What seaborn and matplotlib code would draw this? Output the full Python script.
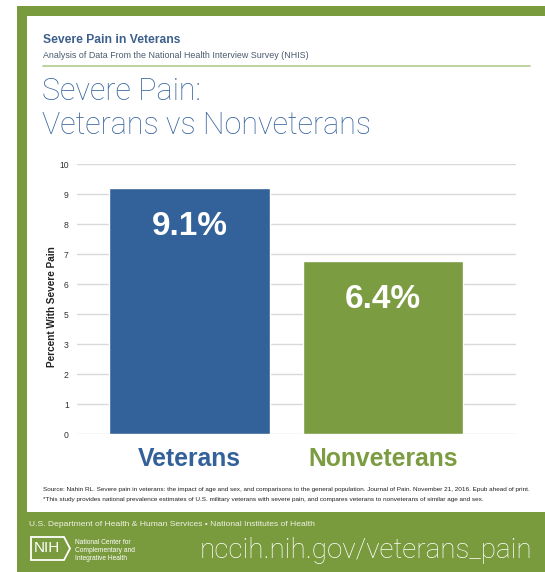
import numpy as np
import pandas as pd
import matplotlib
matplotlib.use("Agg")
import matplotlib.pyplot as plt
from matplotlib.patches import Rectangle, Polygon
from matplotlib.lines import Line2D
import seaborn as sns

# ---- data ----
groups = ["Veterans", "Nonveterans"]
severe_pain_pct = [9.1, 6.4]
bar_colors = ["#33619a", "#7b9c40"]
ytick_values = np.linspace(0, 10, 10)
ytick_labels = ["0", "1", "2", "3", "5", "6", "7", "8", "9", "10"]

header = "Severe Pain in Veterans"
subheader = "Analysis of Data From the National Health Interview Survey (NHIS)"
title_lines = ["Severe Pain:", "Veterans vs Nonveterans"]
ylabel = "Percent With Severe Pain"
source_lines = [
    "Source: Nahin RL. Severe pain in veterans: the impact of age and sex, and comparisons to the general population. Journal of Pain. November 21, 2016. Epub ahead of print.",
    "*This study provides national prevalence estimates of U.S. military veterans with severe pain, and compares veterans to nonveterans of similar age and sex.",
]
dept_line = "U.S. Department of Health & Human Services \u2022 National Institutes of Health"
center_lines = ["National Center for", "Complementary and", "Integrative Health"]
url = "nccih.nih.gov/veterans_pain"

df = pd.DataFrame({"group": groups, "pct": severe_pain_pct})

W, H = 545, 572
GREEN = "#7a9a3e"
BLUE_TXT = "#3a67a0"

sns.set_theme(style="white")
plt.rcParams["font.family"] = ["Liberation Sans", "DejaVu Sans"]

fig = plt.figure(figsize=(W / 100, H / 100), dpi=100)
fig.patch.set_facecolor("white")


def fx(x):
    return x / W


def fy(y):
    return 1 - y / H


def frect(x0, y0, x1, y1, color):
    fig.patches.append(Rectangle((fx(x0), fy(y1)), fx(x1) - fx(x0), fy(y0) - fy(y1),
                                 transform=fig.transFigure, facecolor=color,
                                 edgecolor="none", zorder=-5))


# green frame with a white panel inside
frect(17, 6, W, H, GREEN)
frect(27, 16, W, 512, "white")

# header block
fig.text(fx(43), fy(40), header, fontsize=8.7, fontweight="bold", color="#3d5f8c",
         ha="left", va="center")
fig.text(fx(43), fy(55), subheader, fontsize=6.4, color="#4a5a6e", ha="left", va="center")
fig.lines.append(Line2D([fx(43), fx(530)], [fy(66), fy(66)], transform=fig.transFigure,
                        color="#b9d196", lw=1.3))
fig.text(fx(42), fy(92), title_lines[0], fontsize=22, color=BLUE_TXT, ha="left",
         va="center", family=["Roboto", "Liberation Sans"], fontweight="light")
fig.text(fx(42), fy(125), title_lines[1], fontsize=22, color=BLUE_TXT, ha="left",
         va="center", family=["Roboto", "Liberation Sans"], fontweight="light")

# chart
ax = fig.add_axes([fx(77), fy(434), fx(516) - fx(77), fy(164) - fy(434)])
ax.set_facecolor("none")
sns.barplot(data=df, x="group", y="pct", hue="group", palette=bar_colors,
            width=0.83, dodge=False, legend=False, saturation=1, ax=ax, zorder=3)
ax.set_ylim(0, 10)
ax.set_xlim(-0.581, 1.687)
ax.set_yticks(ytick_values)
ax.set_yticklabels(ytick_labels)
ax.yaxis.grid(True, color="#d9d9d9", lw=1.0, zorder=0)
ax.set_axisbelow(True)
for s in ax.spines.values():
    s.set_visible(False)
ax.tick_params(axis="y", length=0, pad=6, labelsize=6.2, labelcolor="#333333")
ax.tick_params(axis="x", length=0, pad=9)
ax.set_xlabel("")
ax.set_ylabel(ylabel, fontsize=7.2, fontweight="bold", color="#222222")
ax.yaxis.set_label_coords(-0.046, 0.47)
for lbl, c in zip(ax.get_xticklabels(), bar_colors):
    lbl.set_color(c)
    lbl.set_fontsize(17.8)
    lbl.set_fontweight("bold")

for i, v in enumerate(severe_pain_pct):
    ax.annotate(f"{v:.1f}%", xy=(i, v), xytext=(0, -27.5), textcoords="offset points",
                ha="center", va="center", color="white", fontsize=24,
                fontweight="bold", zorder=5)

# footnotes
fig.text(fx(43), fy(489), source_lines[0], fontsize=4.55, color="#222222",
         ha="left", va="center")
fig.text(fx(43), fy(500), source_lines[1], fontsize=4.55, color="#222222",
         ha="left", va="center")

# bottom band
fig.text(fx(29), fy(525), dept_line, fontsize=6.1, color="#eef3e4", ha="left", va="center")

# NIH logo: white outlined box with arrow
logo = Polygon([(fx(31), fy(537)), (fx(64), fy(537)), (fx(70), fy(548.5)),
                (fx(64), fy(560)), (fx(31), fy(560))], closed=True,
               transform=fig.transFigure, facecolor="none", edgecolor="white", lw=1.3)
fig.patches.append(logo)
fig.text(fx(47), fy(548.5), "NIH", fontsize=11, color="white", ha="center", va="center")
for k, line in enumerate(center_lines):
    fig.text(fx(75), fy(542 + 8 * k), line, fontsize=4.8, color="white",
             ha="left", va="center")

fig.text(fx(200), fy(551), url, fontsize=20, color="white", ha="left", va="center",
         family=["Roboto", "Liberation Sans"], fontweight="light")

fig.savefig("out.png", dpi=100, facecolor="white")
